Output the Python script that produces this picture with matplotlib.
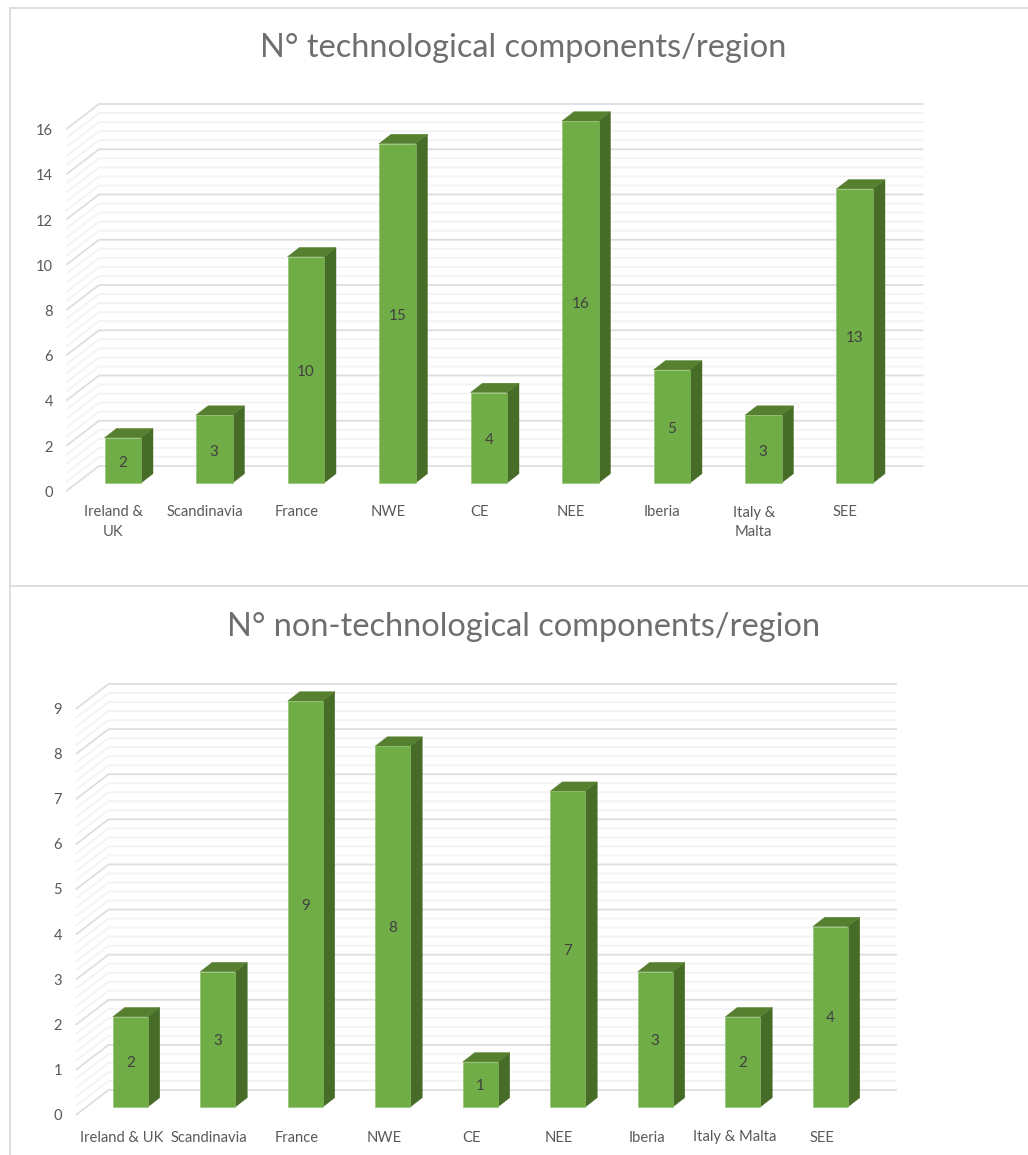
from __future__ import annotations

import matplotlib

matplotlib.use("Agg")
import matplotlib.pyplot as plt
from matplotlib.lines import Line2D
from matplotlib.patches import Polygon
import numpy as np

WIDTH = 1028
HEIGHT = 1155

TECH_TITLE = "N° technological components/region"
TECH_LABELS = ["Ireland &\nUK", "Scandinavia", "France", "NWE", "CE", "NEE", "Iberia", "Italy &\nMalta", "SEE"]
TECH_VALUES = [2, 3, 10, 15, 4, 16, 5, 3, 13]
TECH_TICKS = [0, 2, 4, 6, 8, 10, 12, 14, 16]

NON_TECH_TITLE = "N° non-technological components/region"
NON_TECH_LABELS = ["Ireland & UK", "Scandinavia", "France", "NWE", "CE", "NEE", "Iberia", "Italy & Malta", "SEE"]
NON_TECH_VALUES = [2, 3, 9, 8, 1, 7, 3, 2, 4]
NON_TECH_TICKS = [0, 1, 2, 3, 4, 5, 6, 7, 8, 9]

FRONT = "#70ad47"
TOP = "#56802f"
SIDE = "#476c28"
EDGE = "#8dc16a"
MAJOR = "#dedede"
MINOR = "#f3f3f3"
TEXT = "#595959"
TITLE = "#6e6e6e"
DARK = "#404040"

plt.rcParams["font.family"] = ["Lato", "DejaVu Sans"]


def draw_panel(fig, title, title_y, labels, values, ticks, box, label_y, tick_x, tick_shift, label_shift, value_shift):
    # box: left/right of the category bands, pixel rows of value 0 and of the top tick
    left, right, y_zero, y_top = box
    ymax = ticks[-1]
    ax = fig.add_axes([
        left / WIDTH,
        1 - y_zero / HEIGHT,
        (right - left) / WIDTH,
        (y_zero - y_top) / HEIGHT,
    ])
    ax.set_xlim(0, len(values))
    ax.set_ylim(0, ymax)
    ax.axis("off")

    band_px = (right - left) / len(values)
    unit_px = (y_zero - y_top) / ymax
    px_x = 1 / band_px
    px_y = 1 / unit_px

    # back wall and side wall of the 3D box
    wall_dx = 32 * px_x
    front_drop = 7.5 * px_y
    back_rise = 17 * px_y
    step = (ticks[1] - ticks[0]) / 5
    for k in range(int(round(ymax / step)) + 1):
        v = k * step
        is_major = k % 5 == 0
        ax.plot(
            [0, wall_dx, len(values) + wall_dx],
            [v - front_drop, v + back_rise, v + back_rise],
            color=MAJOR if is_major else MINOR,
            lw=1.3,
            zorder=2 if is_major else 1,
            clip_on=False,
            solid_joinstyle="miter",
        )

    # bars: front from ax.bar, top and side faces offset by the depth
    x = np.arange(len(values)) + 0.5 + 10 * px_x
    bar_w = 36.5 * px_x if band_px > 90 else 35 * px_x
    depth_x = 12 * px_x
    depth_y = 9.3 * px_y
    for xi, val in zip(x, values):
        x0 = xi - bar_w / 2
        x1 = xi + bar_w / 2
        ax.add_patch(Polygon(
            [(x1, 0), (x1 + depth_x, depth_y), (x1 + depth_x, val + depth_y), (x1, val)],
            facecolor=SIDE, edgecolor=SIDE, lw=0.3, zorder=3, clip_on=False,
        ))
        ax.add_patch(Polygon(
            [(x0, val), (x0 + depth_x, val + depth_y), (x1 + depth_x, val + depth_y), (x1, val)],
            facecolor=TOP, edgecolor=TOP, lw=0.3, zorder=3, clip_on=False,
        ))
    ax.bar(x, values, width=bar_w, color=FRONT, edgecolor=EDGE, linewidth=0.4, zorder=4, clip_on=False)

    for xi, val in zip(x, values):
        ax.text(xi, val / 2 - value_shift * px_y, str(val), ha="center", va="center_baseline",
                fontsize=11, color=DARK, zorder=5)

    for i, label in enumerate(labels):
        ax.text(i + 0.5 + label_shift * px_x, -(label_y - y_zero) * px_y, label, ha="center", va="top",
                fontsize=10.6, color=TEXT, linespacing=1.5, clip_on=False)

    for t in ticks:
        ax.text((tick_x - left) * px_x, t - front_drop - tick_shift * px_y, str(t), ha="right",
                va="center_baseline", fontsize=10.6, color=TEXT, clip_on=False)

    fig.text(523.5 / WIDTH, 1 - title_y / HEIGHT, title, ha="center", va="center",
             fontsize=23.4, color=TITLE)


def main():
    fig = plt.figure(figsize=(WIDTH / 100, HEIGHT / 100), dpi=100, facecolor="white")

    for xs, ys in [
        ([10, 10], [8, HEIGHT]),
        ([10, WIDTH], [8, 8]),
        ([10, WIDTH], [586, 586]),
    ]:
        fig.add_artist(Line2D(
            [v / WIDTH for v in xs],
            [1 - v / HEIGHT for v in ys],
            color=MAJOR, lw=1.4,
        ))

    draw_panel(fig, TECH_TITLE, 48, TECH_LABELS, TECH_VALUES, TECH_TICKS,
               (67, 890.5, 483, 121), 505.5, 53, 1, 0.5, 1)
    draw_panel(fig, NON_TECH_TITLE, 627, NON_TECH_LABELS, NON_TECH_VALUES, NON_TECH_TICKS,
               (76.5, 864, 1107, 701), 1130.5, 62, 0, 1.5, 0)

    fig.savefig("out.png", dpi=100)
    plt.close(fig)


main()
